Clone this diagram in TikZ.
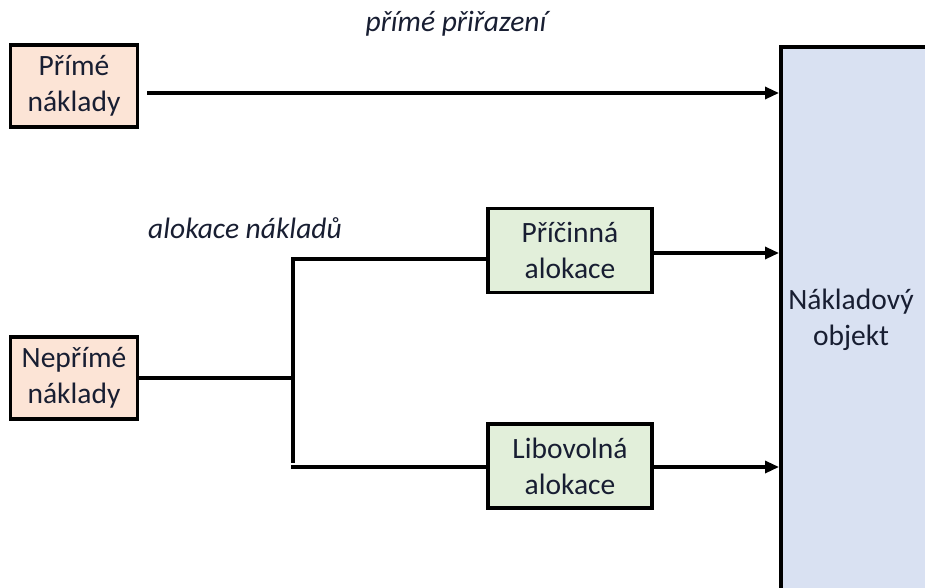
\documentclass[tikz,border=0pt]{standalone}
\usepackage{fontspec}
\setmainfont{Carlito}
\usetikzlibrary{arrows.meta,calc}
\definecolor{peach}{HTML}{FCE4D6}
\definecolor{mint}{HTML}{E2EFDA}
\definecolor{paleblue}{HTML}{D9E1F2}
\definecolor{txt}{RGB}{24,30,50}
\begin{document}
\begin{tikzpicture}[x=1pt,y=-1pt,
  every node/.style={font=\fontsize{29.5}{36}\selectfont, text=txt, align=center, inner sep=0pt},
  costbox/.style={draw=black, line width=3.8pt, fill=peach, minimum width=127pt, minimum height=82pt},
  allocbox/.style={draw=black, line width=3.8pt, fill=mint, minimum width=164pt, minimum height=84pt},
  objbox/.style={draw=black, line width=3.8pt, fill=paleblue, minimum width=150pt, minimum height=550pt},
  lbl/.style={font=\fontsize{29.5}{36}\selectfont\itshape},
  conn/.style={line width=3.2pt, draw=black},
  arr/.style={conn, -{Triangle[length=14pt,width=12pt]}}]
\useasboundingbox (0,0) rectangle (925,587);
\clip (0,0) rectangle (925,587);
% nodes
\node[costbox] (pn) at (74,86) {Přímé\\náklady};
\node[costbox] (nn) at (74,378) {Nepřímé\\náklady};
\node[allocbox] (pa) at (570,250.5) {Příčinná\\alokace};
\node[allocbox] (la) at (570,466) {Libovolná\\alokace};
\node[objbox, anchor=north west] (obj) at (779,45) {};
\node (objt) at (851,320) {Nákladový\\objekt};
\node[lbl] (l1) at (456,24) {přímé přiřazení};
\node[lbl] (l2) at (245,228) {alokace nákladů};
% junction coordinates
\coordinate (jm) at (293,378);
\coordinate (jt) at (293,258);
\coordinate (jb) at (293,463);
\coordinate (jtt) at (291.4,259);
\coordinate (jbb) at (291.4,467);
% connectors
\draw[arr] ($(pn.east)+(8,7)$) -- (obj.west |- {0,93});
\draw[conn] (nn.east) -- (jm);
\draw[conn] (jt) -- (jb);
\draw[conn] (jtt) -- (pa.west |- jtt);
\draw[conn] (jbb) -- (la.west |- jbb);
\draw[arr] (pa.east |- {0,253}) -- (obj.west |- {0,253});
\draw[arr] (la.east |- {0,467}) -- (obj.west |- {0,467});
\end{tikzpicture}
\end{document}
